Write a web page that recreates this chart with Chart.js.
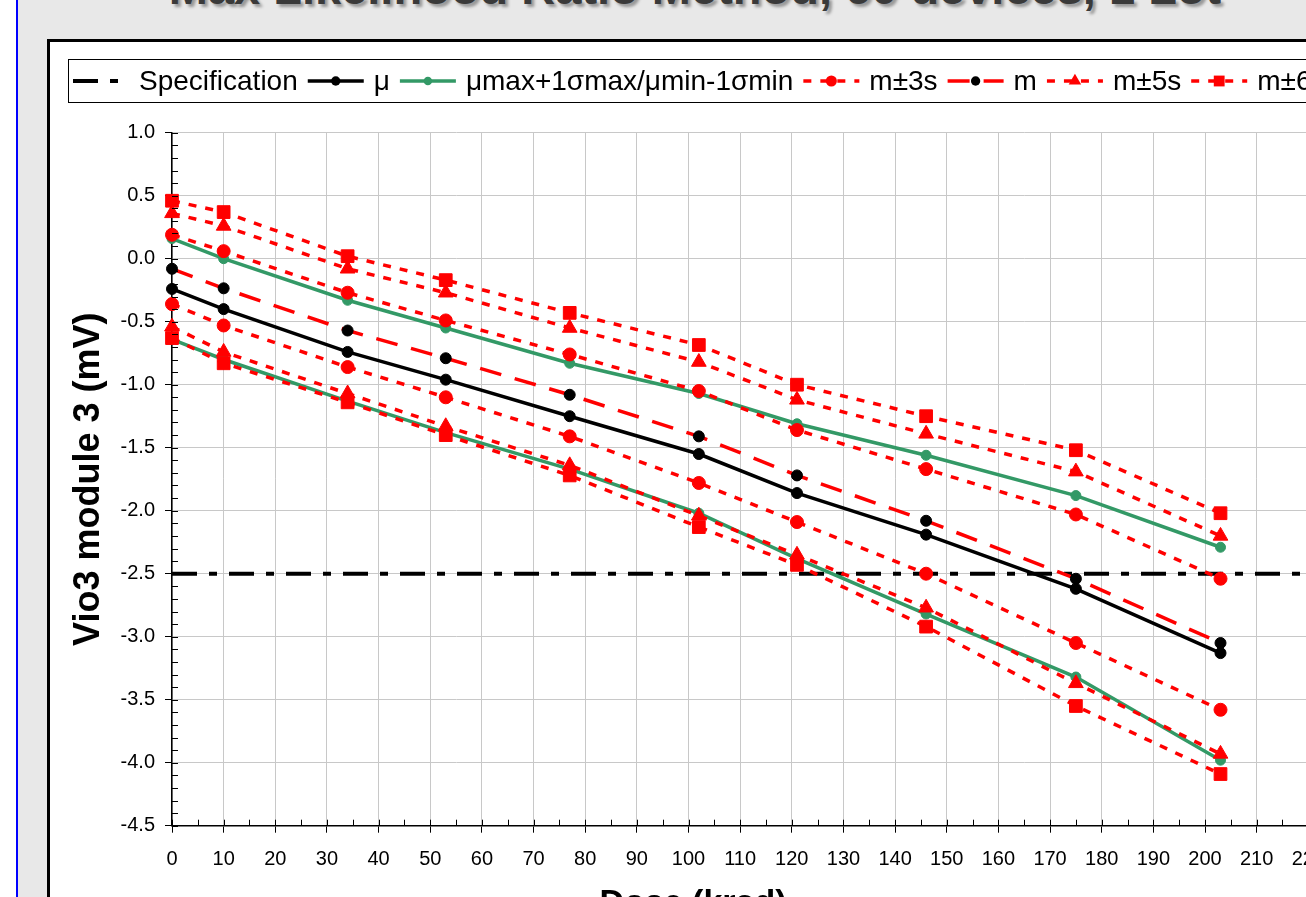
<!DOCTYPE html>
<html>
<head>
<meta charset="utf-8">
<script src="https://cdn.jsdelivr.net/npm/chart.js@4.4.1/dist/chart.umd.min.js"></script>
<style>
  html, body { margin: 0; padding: 0; width: 1306px; height: 897px; overflow: hidden; background: #fff; }
  #panel { position: absolute; left: 16px; top: 0; width: 1400px; height: 1000px; background: #e8e8e8; border-left: 2px solid #0000ff; }
  #title { position: absolute; left: 695px; top: -36px; transform: translateX(-50%); white-space: nowrap;
           font: bold 47px 'Liberation Sans', Arial, sans-serif; line-height: 47px; color: #3a3a3a;
           text-shadow: 3px 3px 3px rgba(0,0,0,0.35); }
  #frame { position: absolute; left: 47px; top: 39px; width: 1296px; height: 1000px; background: #fff;
           border: 3px solid #000; box-sizing: border-box; }
  #chart { position: absolute; left: 50px; top: 42px; display: block; }
</style>
</head>
<body>
<div id="panel"></div>
<div id="title">Max Likelihood Ratio Method, 60 devices, 1 Lot</div>
<div id="frame"></div>
<canvas id="chart" width="1290" height="900"></canvas>
<script>
// dose points (krad)
const dose = [0, 10, 34, 53, 77, 102, 121, 146, 175, 203];

// specification limit
const specDose = [0, 220];
const specLimit = [-2.5, -2.5];

// Vio3 module 3 (mV)
const mu       = [-0.24, -0.40, -0.74, -0.96, -1.25, -1.55, -1.86, -2.19, -2.62, -3.13];
const muMaxUp  = [0.16, 0.00, -0.33, -0.55, -0.83, -1.07, -1.31, -1.56, -1.88, -2.29];
const muMinLo  = [-0.64, -0.80, -1.13, -1.38, -1.67, -2.02, -2.38, -2.82, -3.32, -3.98];
const m        = [-0.08, -0.235, -0.57, -0.79, -1.08, -1.41, -1.72, -2.08, -2.54, -3.05];
const mPlus3s  = [0.19, 0.06, -0.27, -0.49, -0.76, -1.05, -1.36, -1.67, -2.03, -2.54];
const mMinus3s = [-0.36, -0.53, -0.86, -1.10, -1.41, -1.78, -2.09, -2.50, -3.05, -3.58];
const mPlus5s  = [0.36, 0.26, -0.08, -0.27, -0.55, -0.82, -1.12, -1.39, -1.69, -2.20];
const mMinus5s = [-0.54, -0.74, -1.07, -1.33, -1.64, -2.04, -2.35, -2.77, -3.37, -3.93];
const mPlus6s  = [0.46, 0.37, 0.02, -0.17, -0.43, -0.685, -1.00, -1.25, -1.52, -2.02];
const mMinus6s = [-0.63, -0.83, -1.14, -1.40, -1.72, -2.13, -2.43, -2.92, -3.55, -4.09];

// axis ranges
const xRange = [0, 220];
const yRange = [-4.5, 1.0];

const FONT = "'Liberation Sans', Arial, sans-serif";
const RED = '#ff0000';
const GREEN = '#339966';
const DOTS = [8, 9];

const pts = (xs, ys) => xs.map((x, i) => ({ x: x, y: ys[i] }));

function series(label, ys, o) {
    return Object.assign({
        label: label,
        data: pts(dose, ys),
        borderWidth: 3.5,
        borderCapStyle: 'butt',
        pointBorderWidth: 1,
        tension: 0,
        clip: false,
        inLegend: true
    }, o);
}

const datasets = [
    series('m±6s', mPlus6s, { borderColor: RED, borderDash: DOTS, pointStyle: 'rect', pointRadius: 9,
        pointBackgroundColor: RED, pointBorderColor: RED }),
    series('m±6s', mMinus6s, { borderColor: RED, borderDash: DOTS, pointStyle: 'rect', pointRadius: 9,
        pointBackgroundColor: RED, pointBorderColor: RED, inLegend: false }),
    series('m±5s', mPlus5s, { borderColor: RED, borderDash: DOTS, pointStyle: 'triangle', pointRadius: 8.5,
        pointBackgroundColor: RED, pointBorderColor: RED }),
    series('m±5s', mMinus5s, { borderColor: RED, borderDash: DOTS, pointStyle: 'triangle', pointRadius: 8.5,
        pointBackgroundColor: RED, pointBorderColor: RED, inLegend: false }),
    series('m', m, { borderColor: RED, borderDash: [22, 14], pointStyle: 'circle', pointRadius: 5.5,
        pointBackgroundColor: '#000', pointBorderColor: '#000' }),
    series('m±3s', mPlus3s, { borderColor: RED, borderDash: DOTS, pointStyle: 'circle', pointRadius: 6.5,
        pointBackgroundColor: RED, pointBorderColor: RED }),
    series('m±3s', mMinus3s, { borderColor: RED, borderDash: DOTS, pointStyle: 'circle', pointRadius: 6.5,
        pointBackgroundColor: RED, pointBorderColor: RED, inLegend: false }),
    series('μmax+1σmax/μmin-1σmin', muMaxUp, { borderColor: GREEN, pointStyle: 'circle', pointRadius: 5,
        pointBackgroundColor: GREEN, pointBorderColor: GREEN }),
    series('μmax+1σmax/μmin-1σmin', muMinLo, { borderColor: GREEN, pointStyle: 'circle', pointRadius: 5,
        pointBackgroundColor: GREEN, pointBorderColor: GREEN, inLegend: false }),
    series('μ', mu, { borderColor: '#000', pointStyle: 'circle', pointRadius: 5.5,
        pointBackgroundColor: '#000', pointBorderColor: '#000' }),
    {
        label: 'Specification',
        data: pts(specDose, specLimit),
        borderColor: '#000',
        borderWidth: 4,
        borderDash: [25, 12, 8, 12],
        borderCapStyle: 'butt',
        pointRadius: 0,
        clip: false,
        inLegend: true
    }
];

function drawMarker(ctx, style, x, y, r, color) {
    ctx.fillStyle = color;
    ctx.beginPath();
    if (style === 'triangle') {
        ctx.moveTo(x, y - r);
        ctx.lineTo(x + 0.866 * r, y + 0.5 * r);
        ctx.lineTo(x - 0.866 * r, y + 0.5 * r);
        ctx.closePath();
    } else if (style === 'rect') {
        const s = r * Math.SQRT1_2;
        ctx.rect(x - s, y - s, 2 * s, 2 * s);
    } else {
        ctx.arc(x, y, r, 0, Math.PI * 2);
    }
    ctx.fill();
}

// minor ticks, boxed legend with line samples, x axis title
const extras = {
    id: 'extras',
    afterDraw(chart) {
        const { ctx, chartArea, scales } = chart;
        const x = scales.x, y = scales.y;
        ctx.save();

        ctx.strokeStyle = '#000';
        ctx.lineWidth = 1;
        ctx.setLineDash([]);
        ctx.beginPath();
        for (let v = xRange[0]; v <= xRange[1]; v += 5) {
            const px = Math.round(x.getPixelForValue(v)) + 0.5;
            ctx.moveTo(px, chartArea.bottom);
            ctx.lineTo(px, chartArea.bottom - 6);
        }
        for (let k = 0; k <= 55; k++) {
            const py = Math.round(y.getPixelForValue(yRange[0] + k * 0.1)) + 0.5;
            ctx.moveTo(chartArea.left, py);
            ctx.lineTo(chartArea.left + 6, py);
        }
        ctx.stroke();

        // legend
        const top = 17.5, h = 43, cy = top + h / 2;
        let lx = 23;
        ctx.font = '28px ' + FONT;
        ctx.textBaseline = 'middle';
        ctx.textAlign = 'left';
        const items = chart.data.datasets.filter(d => d.inLegend).reverse();
        items.forEach(d => {
            ctx.strokeStyle = d.borderColor;
            ctx.lineWidth = d.borderWidth;
            ctx.lineCap = 'butt';
            ctx.setLineDash(d.borderDash || []);
            ctx.beginPath();
            ctx.moveTo(lx, cy);
            ctx.lineTo(lx + 56, cy);
            ctx.stroke();
            ctx.setLineDash([]);
            if (d.pointRadius) {
                drawMarker(ctx, d.pointStyle, lx + 28, cy, d.pointRadius * 0.85, d.pointBackgroundColor);
            }
            lx += 66;
            ctx.fillStyle = '#000';
            ctx.fillText(d.label, lx, cy + 1);
            lx += ctx.measureText(d.label).width + 10;
        });
        ctx.strokeStyle = '#000';
        ctx.lineWidth = 1;
        ctx.strokeRect(18.5, top, lx - 18, h);

        // x axis title, centred on the frame
        ctx.fillStyle = '#000';
        ctx.font = 'bold 34px ' + FONT;
        ctx.textAlign = 'center';
        ctx.textBaseline = 'alphabetic';
        ctx.fillText('Dose (krad)', 643, 871);
        ctx.restore();
    }
};

new Chart(document.getElementById('chart'), {
    type: 'line',
    data: { datasets: datasets },
    options: {
        responsive: false,
        animation: false,
        events: [],
        layout: { padding: { top: 90.7, left: 0, right: 29.5, bottom: 0 } },
        plugins: {
            legend: { display: false },
            title: { display: false },
            tooltip: { enabled: false }
        },
        scales: {
            x: {
                type: 'linear',
                min: xRange[0],
                max: xRange[1],
                afterFit(scale) { scale.height = 116.3; },
                border: { color: '#000', width: 1.5 },
                grid: { color: '#c8c8c8', lineWidth: 1, tickColor: '#000', tickLength: 7 },
                ticks: {
                    stepSize: 10, autoSkip: false, maxRotation: 0, padding: 15,
                    color: '#000', font: { family: FONT, size: 20 }
                }
            },
            y: {
                type: 'linear',
                min: yRange[0],
                max: yRange[1],
                afterFit(scale) { scale.width = 122; },
                border: { color: '#000', width: 1.5 },
                grid: { color: '#c8c8c8', lineWidth: 1, tickColor: '#000', tickLength: 7 },
                ticks: {
                    stepSize: 0.5, padding: 10, color: '#000', font: { family: FONT, size: 20 },
                    callback: v => (Math.abs(v) < 1e-9 ? 0 : v).toFixed(1)
                },
                title: {
                    display: true,
                    text: 'Vio3 module 3 (mV)',
                    color: '#000',
                    font: { family: FONT, size: 36, weight: 'bold' },
                    padding: { top: 17, bottom: 0 }
                }
            }
        }
    },
    plugins: [extras]
});
</script>
</body>
</html>
